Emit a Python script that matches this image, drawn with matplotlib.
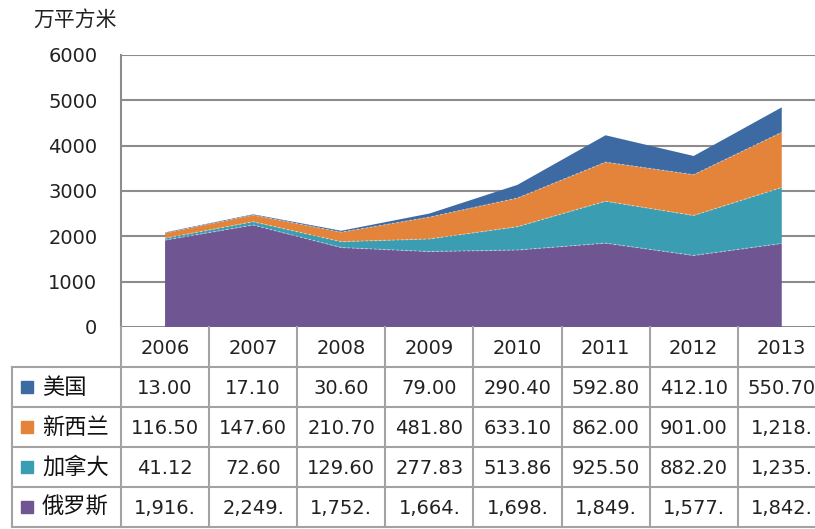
import matplotlib
matplotlib.use("Agg")
import matplotlib.pyplot as plt
import numpy as np

years = ["2006", "2007", "2008", "2009", "2010", "2011", "2012", "2013"]
names = ["美国", "新西兰", "加拿大", "俄罗斯"]
usa = [13.00, 17.10, 30.60, 79.00, 290.40, 592.80, 412.10, 550.70]
nz = [116.50, 147.60, 210.70, 481.80, 633.10, 862.00, 901.00, 1218.0]
canada = [41.12, 72.60, 129.60, 277.83, 513.86, 925.50, 882.20, 1235.0]
russia = [1916.0, 2249.0, 1752.0, 1664.0, 1698.0, 1849.0, 1577.0, 1842.0]
colors = ["#3d6aa3", "#e3843a", "#3b9db2", "#6f5592"]

CJK = ["Noto Sans CJK SC", "DejaVu Sans"]
W, H = 815, 529
# pixel geometry of the picture
x_left, col_w = 121, 88.1
y_top, y_bot = 55, 327
row_h = 40
grid_c = "#8c8c8c"
tab_c = "#a3a3a3"


def fmt(v):
    if v >= 1000:
        return "{:,}.".format(int(v))
    return "{:.2f}".format(v)


fig = plt.figure(figsize=(W / 100, H / 100), dpi=100)
ax_w = (col_w * len(years)) / W
ax = fig.add_axes([x_left / W, 1 - y_bot / H, ax_w, (y_bot - y_top) / H])

x = np.arange(len(years))
layers = [russia, canada, nz, usa]
layer_cols = [colors[3], colors[2], colors[1], colors[0]]
ax.stackplot(x, *layers, colors=layer_cols, linewidth=0, zorder=2)
cum = np.cumsum(np.array(layers), axis=0)
for k in range(len(layers) - 1):
    ax.plot(x, cum[k], color="white", lw=0.8, alpha=0.45, ls=(0, (2, 2)), zorder=3)

ax.set_xlim(-0.5, len(years) - 0.5)
ax.set_ylim(0, 6000)
ax.set_yticks(range(0, 6001, 1000))
ax.set_yticklabels([str(v) for v in range(0, 6001, 1000)], fontsize=14, color="#222222")
ax.set_xticks([])
ax.tick_params(axis="y", length=0, pad=17)
ax.yaxis.grid(True, color=grid_c, lw=1.5, zorder=1)
ax.set_axisbelow(True)
for s in ["top", "right", "bottom"]:
    ax.spines[s].set_visible(False)
ax.spines["left"].set_color(grid_c)
ax.spines["left"].set_linewidth(1.5)

fig.text(33 / W, 1 - 20 / H, "万平方米", family=CJK, fontsize=15, va="center", ha="left", color="#222222")

# data table below the chart
tab = fig.add_axes([0, 0, 1, 1], zorder=5)
tab.set_xlim(0, W)
tab.set_ylim(H, 0)
tab.axis("off")
tab.patch.set_alpha(0)

n = len(years)
edges = [x_left + col_w * i for i in range(n + 1)]
row_tops = [y_bot + row_h * i for i in range(6)]
row_tops[0] = y_bot + 1
tab_bottom = row_tops[-1]
for e in edges:
    tab.plot([e, e], [y_bot, tab_bottom], color=tab_c, lw=1.5)
tab.plot([12, 12], [row_tops[1], tab_bottom], color=tab_c, lw=1.5)
for r in range(1, 6):
    tab.plot([12, W], [row_tops[r], row_tops[r]], color=tab_c, lw=1.5)

for i, yr in enumerate(years):
    tab.text(edges[i] + col_w / 2, (row_tops[0] + row_tops[1]) / 2 + 1, yr,
             ha="center", va="center", fontsize=14, color="#222222")

series = [usa, nz, canada, russia]
for r, (nm, vals, c) in enumerate(zip(names, series, colors)):
    yc = (row_tops[r + 1] + row_tops[r + 2]) / 2
    tab.add_patch(plt.Rectangle((21, yc - 6), 12, 12, color=c))
    tab.text(42, yc, nm, family=CJK, fontsize=16, va="center", ha="left", color="#111111")
    for i, v in enumerate(vals):
        tab.text(edges[i] + col_w / 2, yc + 1, fmt(v), ha="center", va="center",
                 fontsize=14, color="#222222")

fig.savefig("out.png", dpi=100)
